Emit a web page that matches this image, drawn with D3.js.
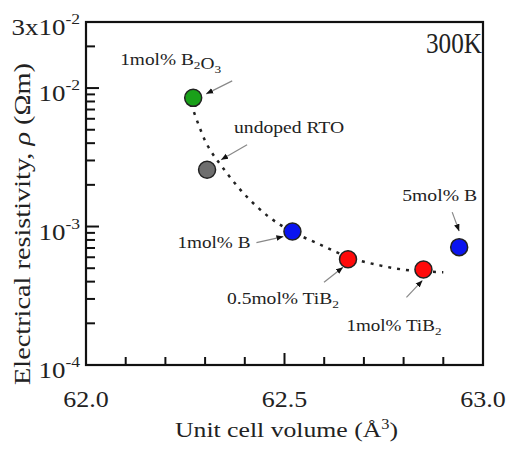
<!DOCTYPE html>
<html>
<head>
<meta charset="utf-8">
<script src="https://d3js.org/d3.v7.min.js"></script>
<style>
  body { margin: 0; background: #fff; }
  text { font-family: "Liberation Serif", "Times New Roman", serif; fill: #222; }
</style>
</head>
<body>
<svg id="chart" width="506" height="451"></svg>
<script>
  // measured data
  var volume = [62.27, 62.305, 62.52, 62.66, 62.85, 62.94];
  var resistivity = [8.5e-3, 2.57e-3, 9.2e-4, 5.8e-4, 4.9e-4, 7.1e-4];
  var samples = ["1mol% B_2O_3", "undoped RTO", "1mol% B", "0.5mol% TiB_2", "1mol% TiB_2", "5mol% B"];
  var fills = ["#19a019", "#6e6e6e", "#0a14f0", "#ff0a0a", "#ff0a0a", "#0a14f0"];
  // dashed guide curve
  var fitX = [62.272, 62.305, 62.345, 62.40, 62.463, 62.519, 62.59, 62.662, 62.74, 62.816, 62.90];
  var fitY = [6.7e-3, 3.9e-3, 2.65e-3, 1.7e-3, 1.16e-3, 9.2e-4, 7.4e-4, 6.0e-4, 5.24e-4, 4.82e-4, 4.68e-4];
  var xTicks = [62.0, 62.5, 63.0];

  var svg = d3.select('#chart');
  var mLeft = 86, mRight = 483, mTop = 22, mBottom = 365;

  var x = d3.scaleLinear().domain([62, 63]).range([mLeft, mRight]);
  var y = d3.scaleLog().domain([1e-4, 3e-2]).range([mBottom, mTop]);

  svg.append('defs').append('marker')
    .attr('id', 'head')
    .attr('viewBox', '0 0 10 10')
    .attr('refX', 10).attr('refY', 5)
    .attr('markerWidth', 7).attr('markerHeight', 7)
    .attr('markerUnits', 'userSpaceOnUse')
    .attr('orient', 'auto')
    .append('path').attr('d', 'M0,1 L10,5 L0,9 Z').attr('fill', '#111');

  // ticks (inward)
  var xt = d3.range(62.1, 62.95, 0.1);
  svg.selectAll('.xt').data(xt).enter().append('line')
    .attr('x1', function(d) { return x(d); })
    .attr('x2', function(d) { return x(d); })
    .attr('y1', mBottom)
    .attr('y2', function(d) { return Math.abs(d - 62.5) < 1e-6 ? mBottom - 12 : mBottom - 8; })
    .attr('stroke', '#111').attr('stroke-width', 2);

  var yt = [];
  [-4, -3, -2].forEach(function(e) {
    for (var m = 1; m <= 9; m++) {
      var v = m * Math.pow(10, e);
      if (v > 1e-4 && v < 3e-2) yt.push({ v: v, major: m == 1 });
    }
  });
  svg.selectAll('.yt').data(yt).enter().append('line')
    .attr('x1', mLeft)
    .attr('x2', function(d) { return d.major ? mLeft + 13 : mLeft + 9; })
    .attr('y1', function(d) { return y(d.v); })
    .attr('y2', function(d) { return y(d.v); })
    .attr('stroke', '#111').attr('stroke-width', 2);

  // frame
  svg.append('rect')
    .attr('x', mLeft).attr('y', mTop)
    .attr('width', mRight - mLeft).attr('height', mBottom - mTop)
    .attr('fill', 'none').attr('stroke', '#111').attr('stroke-width', 2.2);

  // tick labels (the source figure is stretched sideways)
  svg.selectAll('.xl').data(xTicks).enter().append('text')
    .attr('transform', function(d) { return 'translate(' + x(d) + ',407) scale(1.13,1)'; })
    .attr('text-anchor', 'middle')
    .attr('font-size', 23)
    .text(function(d) { return d.toFixed(1); });

  var yLabels = [
    { v: 1e-4, pre: '10', exp: '-4' },
    { v: 1e-3, pre: '10', exp: '-3' },
    { v: 1e-2, pre: '10', exp: '-2' },
    { v: 3e-2, pre: '3x10', exp: '-2' }
  ];
  yLabels.forEach(function(d) {
    var t = svg.append('text')
      .attr('transform', 'translate(80,' + (y(d.v) + 13) + ') scale(1.17,1)')
      .attr('text-anchor', 'end')
      .attr('font-size', 23);
    t.append('tspan').text(d.pre);
    t.append('tspan').attr('font-size', 15).attr('dy', -11).text(d.exp);
  });

  // axis titles
  var xTitle = svg.append('text')
    .attr('x', 175).attr('y', 437)
    .attr('font-size', 22)
    .attr('textLength', 223)
    .attr('lengthAdjust', 'spacingAndGlyphs');
  xTitle.append('tspan').text('Unit cell volume (Å');
  xTitle.append('tspan').attr('font-size', 14).attr('dy', -8).text('3');
  xTitle.append('tspan').attr('dy', 8).text(')');

  var yTitle = svg.append('text')
    .attr('transform', 'translate(30,385) rotate(-90)')
    .attr('font-size', 23)
    .attr('textLength', 322)
    .attr('lengthAdjust', 'spacingAndGlyphs');
  yTitle.append('tspan').text('Electrical resistivity, ');
  yTitle.append('tspan').attr('font-style', 'italic').text('ρ');
  yTitle.append('tspan').text(' (Ωm)');

  svg.append('text')
    .attr('transform', 'translate(482,53) scale(1.05,1.2)')
    .attr('text-anchor', 'end')
    .attr('font-size', 24)
    .text('300K');

  // dashed curve
  var line = d3.line()
    .x(function(d, i) { return x(fitX[i]); })
    .y(function(d, i) { return y(fitY[i]); })
    .curve(d3.curveCatmullRom);
  svg.append('path')
    .attr('d', line(fitX))
    .attr('fill', 'none')
    .attr('stroke', '#222')
    .attr('stroke-width', 2.5)
    .attr('stroke-dasharray', '3,6');

  // points
  svg.selectAll('.pt').data(volume).enter().append('circle')
    .attr('cx', function(d) { return x(d); })
    .attr('cy', function(d, i) { return y(resistivity[i]); })
    .attr('r', 8.5)
    .attr('fill', function(d, i) { return fills[i]; })
    .attr('stroke', '#222')
    .attr('stroke-width', 1.5);

  // annotations: label start/baseline + width, arrow tail and tip, relative to the point
  var notes = [
    { lx: -73, ly: -33, w: 101, ax: 39, ay: -17, tx: 13, ty: -4 },
    { lx: 27, ly: -37, w: 110, ax: 40, ay: -25, tx: 14, ty: -10 },
    { lx: -115, ly: 16, w: 73, ax: -36, ay: 11, tx: -9, ty: 5 },
    { lx: -121, ly: 45, w: 112, ax: -24, ay: 23, tx: -5, ty: 8 },
    { lx: -77, ly: 62, w: 95, ax: -17, ay: 28, tx: -1, ty: 11 },
    { lx: -57, ly: -46, w: 75, ax: -7, ay: -35, tx: 0, ty: -16 }
  ];
  notes.forEach(function(n, i) {
    var px = x(volume[i]), py = y(resistivity[i]);
    svg.append('line')
      .attr('x1', px + n.ax).attr('y1', py + n.ay)
      .attr('x2', px + n.tx).attr('y2', py + n.ty)
      .attr('stroke', '#888').attr('stroke-width', 1.2)
      .attr('marker-end', 'url(#head)');
    var t = svg.append('text')
      .attr('x', px + n.lx).attr('y', py + n.ly)
      .attr('font-size', 16)
      .attr('textLength', n.w)
      .attr('lengthAdjust', 'spacingAndGlyphs');
    samples[i].split(/(_\d)/).forEach(function(part) {
      if (!part) return;
      if (part[0] == '_') {
        t.append('tspan').attr('font-size', 11).attr('dy', 4).text(part.slice(1));
        t.append('tspan').attr('dy', -4).text('');
      } else {
        t.append('tspan').text(part);
      }
    });
  });
</script>
</body>
</html>
